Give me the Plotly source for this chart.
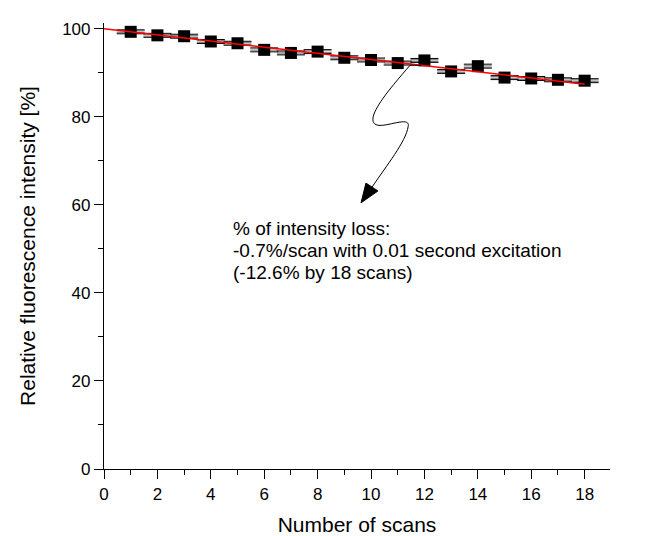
import plotly.graph_objects as go

scans = list(range(1, 19))
intensity = [99.3, 98.5, 98.3, 97.1, 96.7, 95.2, 94.5, 94.8, 93.4, 92.9,
             92.2, 92.8, 90.3, 91.5, 88.9, 88.7, 88.4, 88.2]
err = [0.45] * 18
fit_x = [0, 18]
fit_y = [100, 100 - 0.7 * 18]

x_ticks = list(range(0, 20, 2))
y_ticks = list(range(0, 101, 20))

note_lines = ["% of intensity loss:",
              "-0.7%/scan with 0.01 second excitation",
              "(-12.6% by 18 scans)"]
note_y = [54.7, 49.6, 44.7]
note_x = 4.75

# squiggle arrow (data coordinates)
squiggle = ("M 11.87,91.69 L 11.46,91.69 "
            "C 10.82,87.19 9.70,79.55 10.19,78.20 "
            "C 10.49,77.30 11.50,80.45 11.39,77.75 "
            "C 11.31,74.38 10.56,68.76 10.04,64.04")
head = "M 9.625,60.45 L 10.26,63.15 L 9.81,64.94 Z"

FONT = "Liberation Sans, Arial, sans-serif"

fig = go.Figure()
# gray shadow caps
fig.add_trace(go.Scatter(
    x=scans, y=intensity, mode="markers",
    marker=dict(size=1, color="rgba(0,0,0,0)"),
    error_y=dict(type="data", array=[0.2] * 18, color="#888888",
                 thickness=1.2, width=14),
    hoverinfo="skip", showlegend=False))
fig.add_trace(go.Scatter(
    x=scans, y=intensity, mode="markers",
    marker=dict(symbol="square", size=12, color="black"),
    error_y=dict(type="data", array=err, color="black",
                 thickness=1, width=14),
    showlegend=False))
fig.add_trace(go.Scatter(
    x=fit_x, y=fit_y, mode="lines",
    line=dict(color="red", width=1.5), showlegend=False))

fig.add_shape(type="path", path=squiggle, xref="x", yref="y",
              line=dict(color="black", width=1))
fig.add_shape(type="path", path=head, xref="x", yref="y",
              line=dict(color="black", width=1), fillcolor="black")

for t, yy in zip(note_lines, note_y):
    fig.add_annotation(x=note_x, y=yy, xref="x", yref="y", text=t,
                       showarrow=False, xanchor="left", yanchor="middle",
                       font=dict(family=FONT, size=19, color="black"))

fig.update_layout(
    width=653, height=536,
    margin=dict(l=96, r=51, t=15, b=70),
    paper_bgcolor="white", plot_bgcolor="white",
    font=dict(family=FONT, size=17, color="black"),
)
fig.update_xaxes(
    range=[0, 18.95], tickvals=x_ticks, ticks="outside", ticklen=9,
    tickwidth=1.2, tickcolor="black", showline=True, linecolor="black",
    linewidth=1.2, showgrid=False, zeroline=False,
    minor=dict(dtick=1, ticks="outside", ticklen=5, tickcolor="black"),
    title=dict(text="Number of scans", font=dict(size=21, family=FONT),
               standoff=14),
    tickfont=dict(size=17, family=FONT))
fig.update_yaxes(
    range=[0, 101.3], tickvals=y_ticks, ticks="outside", ticklen=9,
    tickwidth=1.2, tickcolor="black", showline=True, linecolor="black",
    linewidth=1.2, showgrid=False, zeroline=False,
    minor=dict(dtick=10, ticks="outside", ticklen=5, tickcolor="black"),
    title=dict(text="Relative fluorescence intensity [%]",
               font=dict(size=21, family=FONT), standoff=20),
    tickfont=dict(size=17, family=FONT))

fig.write_html("out.html")
